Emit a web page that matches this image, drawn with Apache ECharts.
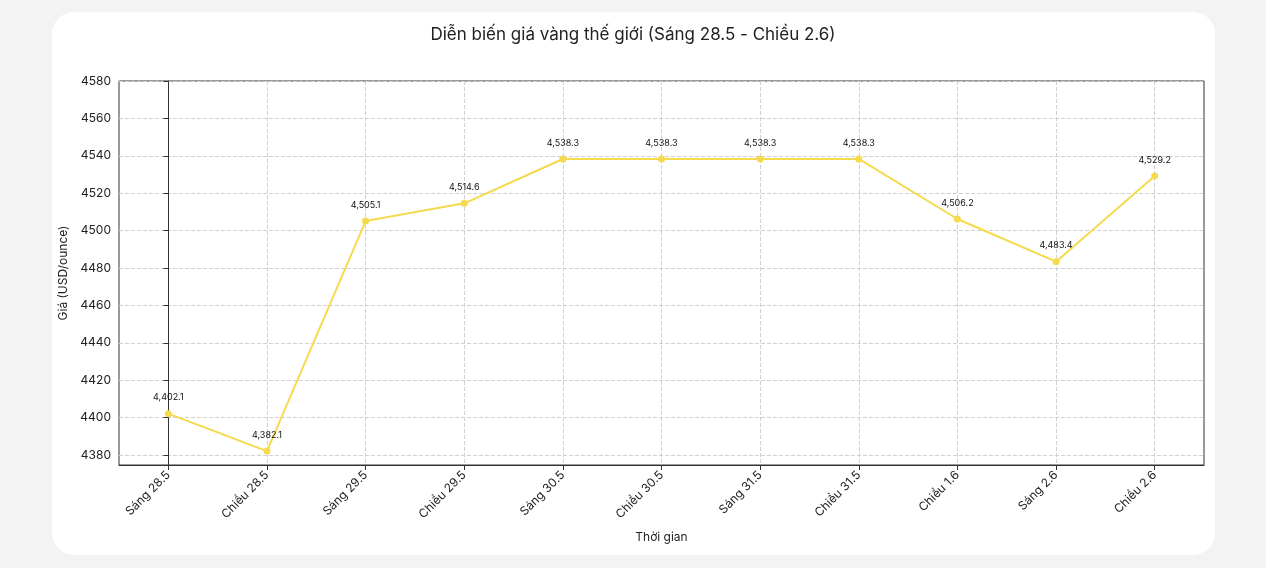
<!DOCTYPE html>
<html><head><meta charset="utf-8">
<script src="https://cdn.jsdelivr.net/npm/echarts@6/dist/echarts.min.js"></script>
<style>
html,body{margin:0;background:#f3f3f3;}
#card{position:absolute;left:52px;top:12px;width:1163px;height:543px;background:#fff;border-radius:22px;}
#main{position:absolute;left:0;top:0;width:1266px;height:568px;}
</style></head>
<body><div id="card"></div><div id="main"></div>
<script>
var categories = ['Sáng 28.5','Chiều 28.5','Sáng 29.5','Chiều 29.5','Sáng 30.5','Chiều 30.5','Sáng 31.5','Chiều 31.5','Chiều 1.6','Sáng 2.6','Chiều 2.6'];
var prices = [4402.1,4382.1,4505.1,4514.6,4538.3,4538.3,4538.3,4538.3,4506.2,4483.4,4529.2];
var yTicks = [4380,4400,4420,4440,4460,4480,4500,4520,4540,4560,4580];

var xTicks = categories.map(function(c,i){return i;});
var points = prices.map(function(v,i){return [i,v];});

var chart = echarts.init(document.getElementById('main'));
var font = 'Inter, "Noto Sans", sans-serif';
chart.setOption({
  textStyle:{fontFamily:font},
  title:{text:'Diễn biến giá vàng thế giới (Sáng 28.5 - Chiều 2.6)',left:'center',top:21,
    textStyle:{fontSize:17,fontWeight:'normal',color:'#222',fontFamily:font}},
  grid:{left:119,right:62,top:81,bottom:103,containLabel:false,show:true,borderColor:'#333',borderWidth:1},
  xAxis:{type:'value',min:-0.5,max:10.5,name:'Thời gian',nameLocation:'middle',nameGap:66,
    nameTextStyle:{fontSize:12,color:'#222'},
    axisLine:{show:true,lineStyle:{color:'#333'}},
    axisTick:{show:true,customValues:xTicks,lineStyle:{color:'#333'}},
    axisLabel:{customValues:xTicks,rotate:45,fontSize:12,color:'#222',margin:8,
      formatter:function(v){return categories[Math.round(v)];}},
    splitLine:{show:true,lineStyle:{type:'dashed',color:'#d0d0d0'}}},
  yAxis:{type:'value',min:4374.65,max:4580,name:'Giá (USD/ounce)',nameLocation:'middle',nameGap:50,
    nameTextStyle:{fontSize:12,color:'#222'},
    axisLine:{show:true,lineStyle:{color:'#333'}},
    axisTick:{show:true,customValues:yTicks,lineStyle:{color:'#333'}},
    axisLabel:{customValues:yTicks,fontSize:12,color:'#222',formatter:function(v){return String(v);}},
    splitLine:{show:true,lineStyle:{type:'dashed',color:'#d0d0d0'}}},
  series:[{type:'line',data:points,symbol:'circle',symbolSize:7,
    lineStyle:{color:'#f5da4e',width:2},itemStyle:{color:'#f5da4e'},
    label:{show:true,position:'top',distance:8,fontSize:9,color:'#111',
      formatter:function(p){return p.value[1].toLocaleString('en-US',{minimumFractionDigits:1,maximumFractionDigits:1});}}}]
});
</script></body></html>
